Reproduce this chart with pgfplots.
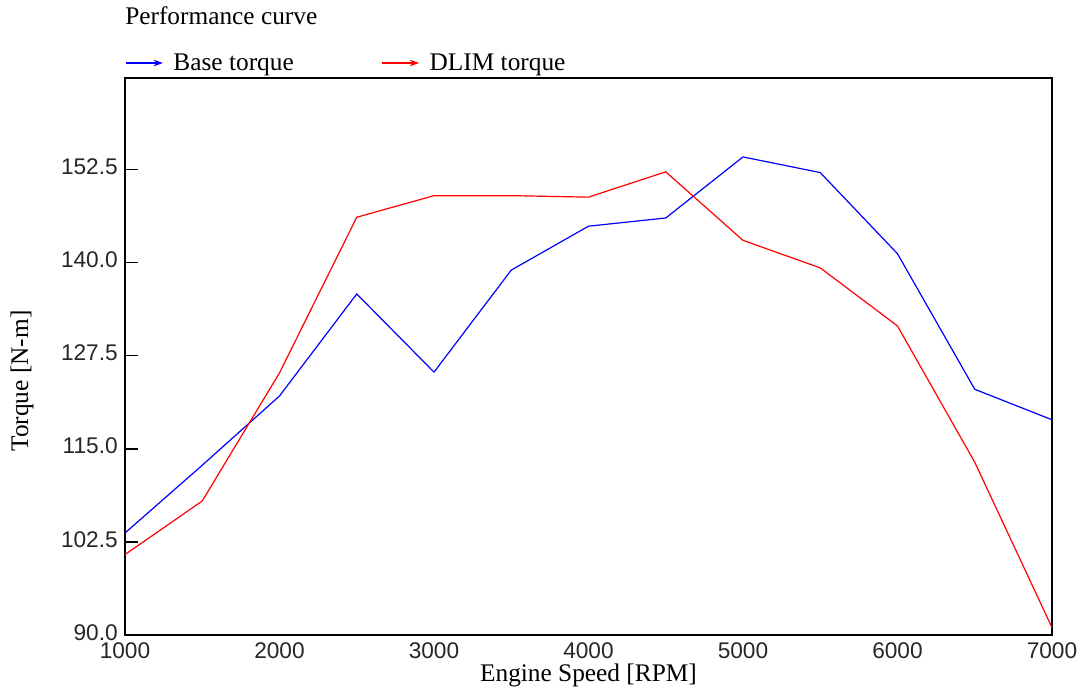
\documentclass[border=0pt]{standalone}
\usepackage{fontspec}
\setmainfont{Liberation Serif}
\setsansfont{Liberation Sans}
\usepackage{pgfplots}
\pgfplotsset{compat=1.18}
\usetikzlibrary{arrows.meta}

\pgfplotstableread{
rpm   torque
1000  103.7
1500  112.8
2000  122.1
2500  135.8
3000  125.3
3500  139.0
4000  144.9
4500  146.0
5000  154.2
5500  152.1
6000  141.2
6500  123.0
7000  118.9
}\basetorque

\pgfplotstableread{
rpm   torque
1000  100.8
1500  108.0
2000  125.2
2500  146.1
3000  149.0
3500  149.0
4000  148.8
4500  152.2
5000  143.0
5500  139.3
6000  131.5
6500  113.2
7000  91.0
}\dlimtorque

\begin{document}
\begin{tikzpicture}
\useasboundingbox (0,0) rectangle (813.75pt,517.5pt);
\begin{axis}[
  at={(93.75pt,41.25pt)}, anchor=south west,
  scale only axis, width=695.25pt, height=417.75pt,
  xmin=1000, xmax=7000, ymin=90, ymax=164.8,
  xtick={1000,2000,3000,4000,5000,6000,7000},
  ytick={90,102.5,115,127.5,140,152.5},
  axis line style={line width=1.1pt, black},
  tick align=inside, ytick pos=left, xtick pos=bottom,
  xtick style={draw=none},
  ytick style={line width=1pt, black},
  major tick length=10pt,
  /pgf/number format/assume math mode=true,
  tick label style={font=\fontsize{17}{19}\sffamily, text=black!85},
  xticklabel style={/pgf/number format/1000 sep={}, inner sep=1pt, yshift=-4.25pt},
  yticklabel style={/pgf/number format/fixed, /pgf/number format/fixed zerofill, /pgf/number format/precision=1,
    inner sep=1pt, xshift=-4.25pt, yshift=2pt},
  xlabel={Engine Speed [RPM]},
  ylabel={Torque [N-m]},
  label style={font=\fontsize{19}{22}\selectfont, inner sep=1pt},
  xlabel style={at={(axis description cs:0.5,-0.0718)}, anchor=center},
  ylabel style={at={(axis description cs:-0.111,0.456)}, anchor=center},
  title={Performance curve},
  title style={at={(axis description cs:0,1)}, anchor=west, yshift=41pt, inner sep=0pt, font=\fontsize{19}{22}\selectfont},
  legend columns=2,
  legend style={at={(axis description cs:0,1)}, anchor=west, yshift=11.25pt,
    draw=none, fill=none, inner sep=0pt, nodes={inner sep=0pt},
    font=\fontsize{19}{22}\selectfont},
  legend cell align=left,
  legend image code/.code={
    \draw[#1, -{Stealth[length=7pt,width=5pt]}] (0pt,0pt) -- (27.75pt,0pt);
    \path (35.25pt,0pt);
  },
]
\addplot[blue, line width=0.9pt] table[x=rpm, y=torque] {\basetorque};
\addlegendentry{\makebox[156pt][l]{Base torque}}
\addplot[red, line width=0.9pt] table[x=rpm, y=torque] {\dlimtorque};
\addlegendentry{\makebox[156pt][l]{DLIM torque}}
\end{axis}
\end{tikzpicture}
\end{document}
